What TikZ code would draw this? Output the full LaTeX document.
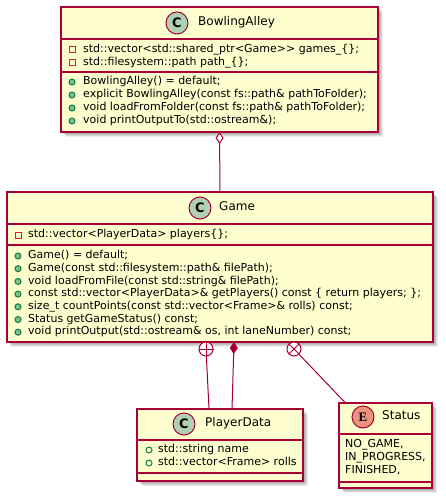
\documentclass[tikz,border=0pt]{standalone}
\usepackage{fontspec}
\setmainfont{DejaVu Sans}[Ligatures=TeXOff]
\newfontfamily\enumfont{Liberation Serif}
\usetikzlibrary{arrows.meta,shadows}

\definecolor{umlfill}{HTML}{FEFECE}
\definecolor{umlline}{HTML}{A80036}
\definecolor{classmark}{HTML}{ADD1B2}
\definecolor{enummark}{HTML}{EB937F}
\definecolor{privred}{HTML}{C82930}
\definecolor{pubgreen}{HTML}{038048}
\definecolor{pubfill}{HTML}{84BE84}

\tikzset{
  umlbox/.style={rectangle, draw=umlline, fill=umlfill, line width=1.5bp,
    inner sep=0pt, outer sep=0pt,
    general shadow={fill=black, opacity=0.09, shadow xshift=2bp, shadow yshift=-2bp},
    general shadow={fill=black, opacity=0.09, shadow xshift=3bp, shadow yshift=-3bp},
    general shadow={fill=black, opacity=0.09, shadow xshift=4bp, shadow yshift=-4bp},
    general shadow={fill=black, opacity=0.07, shadow xshift=5bp, shadow yshift=-5bp}},
  sepline/.style={draw=umlline, line width=1.5bp},
  conn/.style={draw=umlline, line width=1bp},
  classcircle/.style={circle, minimum size=22bp, inner sep=0pt, draw=umlline,
    line width=1bp, fill=classmark, font=\fontsize{13bp}{13bp}\selectfont\bfseries},
  enumcircle/.style={classcircle, fill=enummark},
  titletext/.style={anchor=mid west, inner sep=0pt, font=\fontsize{12bp}{14bp}\selectfont},
  member/.style={anchor=mid west, inner sep=0pt, font=\fontsize{11bp}{13bp}\selectfont},
  privfield/.style={rectangle, minimum size=6bp, inner sep=0pt, draw=privred, line width=1bp},
  pubfield/.style={circle, minimum size=6bp, inner sep=0pt, draw=pubgreen, line width=1bp},
  pubmethod/.style={pubfield, fill=pubfill},
  nestmark/.style={circle, minimum size=14bp, inner sep=0pt, draw=umlline, fill=white, line width=1bp}
}

\begin{document}
\begin{tikzpicture}[x=1bp, y=-1bp]
\useasboundingbox (0,0) rectangle (446,501);

% ---------- BowlingAlley ----------
\node[umlbox, minimum width=317bp, minimum height=125bp] (ba) at (219.5,69.5) {};
\draw[sepline] (ba.west |- 0,39) -- (ba.east |- 0,39);
\draw[sepline] (ba.west |- 0,72) -- (ba.east |- 0,72);
\node[classcircle] (ba-mark) at (177,23) {C};
\node[titletext] (ba-title) at (198,23) {BowlingAlley};
\node[privfield] (ba-a1) at (72,50) {};
\node[privfield] (ba-a2) at (72,62.5) {};
\node[member] (ba-t1) at (83,50) {std::vector<std::shared\_ptr<Game>> games\_\{\};};
\node[member] (ba-t2) at (83,62.5) {std::filesystem::path path\_\{\};};
\foreach \i/\y in {1/82,2/95,3/108,4/121}
  \node[pubmethod] (ba-o\i) at (72,\y) {};
\node[member] (ba-m1) at (83,82) {BowlingAlley() = default;};
\node[member] (ba-m2) at (83,95) {explicit BowlingAlley(const fs::path\& pathToFolder);};
\node[member] (ba-m3) at (83,108) {void loadFromFolder(const fs::path\& pathToFolder);};
\node[member] (ba-m4) at (83,121) {void printOutputTo(std::ostream\&);};

% ---------- Game ----------
\node[umlbox, minimum width=426bp, minimum height=150bp] (game) at (220,267) {};
\draw[sepline] (game.west |- 0,224) -- (game.east |- 0,224);
\draw[sepline] (game.west |- 0,245) -- (game.east |- 0,245);
\node[classcircle] (game-mark) at (200,208) {C};
\node[titletext] (game-title) at (219,208) {Game};
\node[privfield] (game-a1) at (18,235) {};
\node[member] (game-t1) at (28,235) {std::vector<PlayerData> players\{\};};
\foreach \i/\y in {1/256,2/268.7,3/281.4,4/294.1,5/306.8,6/319.5,7/332.2}
  \node[pubmethod] (game-o\i) at (18,\y) {};
\node[member] (game-m1) at (28,256) {Game() = default;};
\node[member] (game-m2) at (28,268.7) {Game(const std::filesystem::path\& filePath);};
\node[member] (game-m3) at (28,281.4) {void loadFromFile(const std::string\& filePath);};
\node[member] (game-m4) at (28,294.1) {const std::vector<PlayerData>\& getPlayers() const \{ return players; \};};
\node[member] (game-m5) at (28,306.8) {size\_t countPoints(const std::vector<Frame>\& rolls) const;};
\node[member] (game-m6) at (28,319.5) {Status getGameStatus() const;};
\node[member] (game-m7) at (28,332.2) {void printOutput(std::ostream\& os, int laneNumber) const;};

% ---------- PlayerData ----------
\node[umlbox, minimum width=166bp, minimum height=72bp] (pd) at (220,445) {};
\draw[sepline] (pd.west |- 0,440) -- (pd.east |- 0,440);
\draw[sepline] (pd.west |- 0,473) -- (pd.east |- 0,473);
\node[classcircle] (pd-mark) at (184,424) {C};
\node[titletext] (pd-title) at (205,424) {PlayerData};
\node[pubfield] (pd-a1) at (149,450) {};
\node[pubfield] (pd-a2) at (149,463) {};
\node[member] (pd-t1) at (158,450) {std::string name};
\node[member] (pd-t2) at (158,463) {std::vector<Frame> rolls};

% ---------- Status ----------
\node[umlbox, minimum width=93bp, minimum height=85bp] (st) at (385.5,445.5) {};
\draw[sepline] (st.west |- 0,434) -- (st.east |- 0,434);
\draw[sepline] (st.west |- 0,482) -- (st.east |- 0,482);
\node[enumcircle] (st-mark) at (363,417) {\enumfont\bfseries E};
\node[titletext] (st-title) at (382,417) {Status};
\node[member] (st-v1) at (345,444.5) {NO\_GAME,};
\node[member] (st-v2) at (345,457.5) {IN\_PROGRESS,};
\node[member] (st-v3) at (345,470.5) {FINISHED,};

% ---------- relations ----------
% BowlingAlley aggregates Game
\draw[conn, {Diamond[fill=white, length=12bp, width=8bp]}-] (ba.south) -- (game.north);

% Game composes PlayerData
\coordinate (comp-a) at ([xshift=14bp]game.south);
\coordinate (comp-b) at ([xshift=12bp]pd.north);
\draw[conn, {Diamond[length=12bp, width=8bp]}-] (comp-a) -- (comp-b);

% PlayerData nested in Game
\node[nestmark] (nest-pd) at (206,349) {};
\draw[conn] (nest-pd.north) -- (nest-pd.south) (nest-pd.west) -- (nest-pd.east);
\coordinate (nest-pd-end) at ([xshift=-11bp]pd.north);
\draw[conn] (nest-pd) -- (nest-pd-end);

% Status nested in Game
\node[nestmark] (nest-st) at (294,349) {};
\draw[conn] (nest-st.north west) -- (nest-st.south east)
            (nest-st.north east) -- (nest-st.south west);
\coordinate (nest-st-end) at ([xshift=-40bp]st.north);
\draw[conn] (nest-st) -- (nest-st-end);
\end{tikzpicture}
\end{document}
